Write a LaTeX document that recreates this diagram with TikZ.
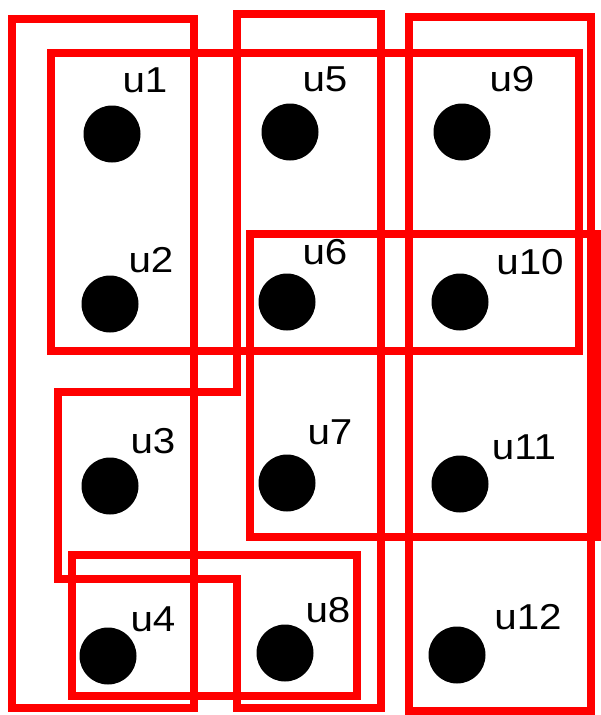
\documentclass[tikz,border=0pt]{standalone}
\usepackage{fontspec}
\setmainfont{Liberation Sans}[FakeStretch=1.12]
\usepackage{tikz}

\begin{document}
\begin{tikzpicture}[x=1pt, y=-1pt,
  vtx/.style={circle, fill=black, inner sep=0pt, minimum size=57pt},
  lab/.style={inner sep=0pt, font=\fontsize{36}{36}\selectfont},
  hedge/.style={draw=red, line width=8pt}]
  \useasboundingbox (0,0) rectangle (600,715);
  % hyperedges
  \draw[hedge] (12,19) rectangle (194,708);
  \draw[hedge] (51,53) rectangle (579,351);
  \draw[hedge] (237,14) -- (381,14) -- (381,708) -- (237,708) -- (237,579)
               -- (58,579) -- (58,392) -- (237,392) -- cycle;
  \draw[hedge] (409,17) rectangle (591,711);
  \draw[hedge] (250,234) rectangle (599,537);
  \draw[hedge] (72,555) rectangle (357,696);
  % column 1
  \node[vtx] (u1) at (112,134) {};
  \node[vtx] (u2) at (110,304) {};
  \node[vtx] (u3) at (110,486) {};
  \node[vtx] (u4) at (108,656) {};
  % column 2
  \node[vtx] (u5) at (290,132) {};
  \node[vtx] (u6) at (287,302) {};
  \node[vtx] (u7) at (287,483) {};
  \node[vtx] (u8) at (285,653) {};
  % column 3
  \node[vtx] (u9)  at (462,132) {};
  \node[vtx] (u10) at (460,302) {};
  \node[vtx] (u11) at (460,484) {};
  \node[vtx] (u12) at (457,655) {};
  % labels
  \node[lab] (t1)  at (145,80)  {u1};
  \node[lab] (t2)  at (151,260) {u2};
  \node[lab] (t3)  at (153,441) {u3};
  \node[lab] (t4)  at (153,619) {u4};
  \node[lab] (t5)  at (325,79)  {u5};
  \node[lab] (t6)  at (325,252) {u6};
  \node[lab] (t7)  at (330,432) {u7};
  \node[lab] (t8)  at (328,610) {u8};
  \node[lab] (t9)  at (512,79)  {u9};
  \node[lab] (t10) at (530,262) {u10};
  \node[lab] (t11) at (524,447) {u11};
  \node[lab] (t12) at (528,617) {u12};
\end{tikzpicture}
\end{document}
